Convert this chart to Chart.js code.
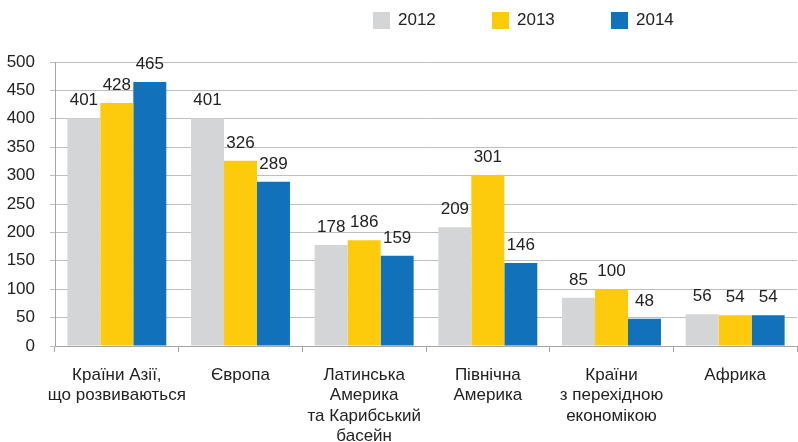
<!DOCTYPE html>
<html>
<head>
<meta charset="utf-8">
<script src="https://cdn.jsdelivr.net/npm/chart.js@4"></script>
<style>
  body { margin: 0; background: #fff; }
  #wrap { position: relative; width: 798px; height: 442px; }
  #legend { position: absolute; top: 10px; left: 373px; display: flex; font: 17px "Liberation Sans", Arial, sans-serif; color: #222; }
  #legend div { display: flex; align-items: center; width: 119px; }
  #legend span.box { width: 17px; height: 17px; margin-right: 8px; display: inline-block; }
</style>
</head>
<body>
<div id="wrap">
  <canvas id="chart" width="798" height="442"></canvas>
  <div id="legend"></div>
</div>
<script>
const categories = [
  ['Країни Азії,', 'що розвиваються'],
  'Європа',
  ['Латинська', 'Америка', 'та Карибський', 'басейн'],
  ['Північна', 'Америка'],
  ['Країни', 'з перехідною', 'економікою'],
  'Африка'
];
const years = ['2012', '2013', '2014'];
const values2012 = [401, 401, 178, 209, 85, 56];
const values2013 = [428, 326, 186, 301, 100, 54];
const values2014 = [465, 289, 159, 146, 48, 54];
const colors = ['#d4d5d7', '#fdcb0b', '#1172bb'];

const font = { family: '"Liberation Sans", Arial, sans-serif', size: 17 };
const textColor = '#222';

// legend in html
const legend = document.getElementById('legend');
years.forEach((y, i) => {
    const item = document.createElement('div');
    item.innerHTML = `<span class="box" style="background:${colors[i]}"></span>${y}`;
    legend.appendChild(item);
});

// value labels above bars
const barLabels = {
    id: 'barLabels',
    afterDatasetsDraw(chart) {
        const ctx = chart.ctx;
        ctx.save();
        ctx.font = `${font.size}px ${font.family}`;
        ctx.fillStyle = textColor;
        ctx.textAlign = 'center';
        ctx.textBaseline = 'alphabetic';
        chart.data.datasets.forEach((ds, i) => {
            chart.getDatasetMeta(i).data.forEach((bar, j) => {
                ctx.fillText(ds.data[j], bar.x, bar.y - 13);
            });
        });
        ctx.restore();
    }
};

new Chart(document.getElementById('chart'), {
    type: 'bar',
    data: {
        labels: categories,
        datasets: [
            { label: years[0], data: values2012, backgroundColor: colors[0] },
            { label: years[1], data: values2013, backgroundColor: colors[1] },
            { label: years[2], data: values2014, backgroundColor: colors[2] }
        ]
    },
    options: {
        responsive: false,
        animation: false,
        categoryPercentage: 0.8,
        barPercentage: 1,
        layout: { padding: { top: 62, right: 1, left: 0, bottom: 0 } },
        plugins: {
            legend: { display: false },
            tooltip: { enabled: false }
        },
        scales: {
            x: {
                grid: { offset: true, drawOnChartArea: false, color: '#a6a6a6', tickLength: 6 },
                border: { color: '#a6a6a6' },
                ticks: { font: font, color: textColor, padding: 13, maxRotation: 0, autoSkip: false },
                afterFit: s => { s.height = 96; }
            },
            y: {
                min: 0,
                max: 500,
                ticks: { stepSize: 50, font: font, color: textColor, padding: 15 },
                grid: { color: '#bfbfbf', tickLength: 5 },
                border: { color: '#a6a6a6' },
                afterFit: s => { s.width = 55; }
            }
        }
    },
    plugins: [barLabels]
});
</script>
</body>
</html>
